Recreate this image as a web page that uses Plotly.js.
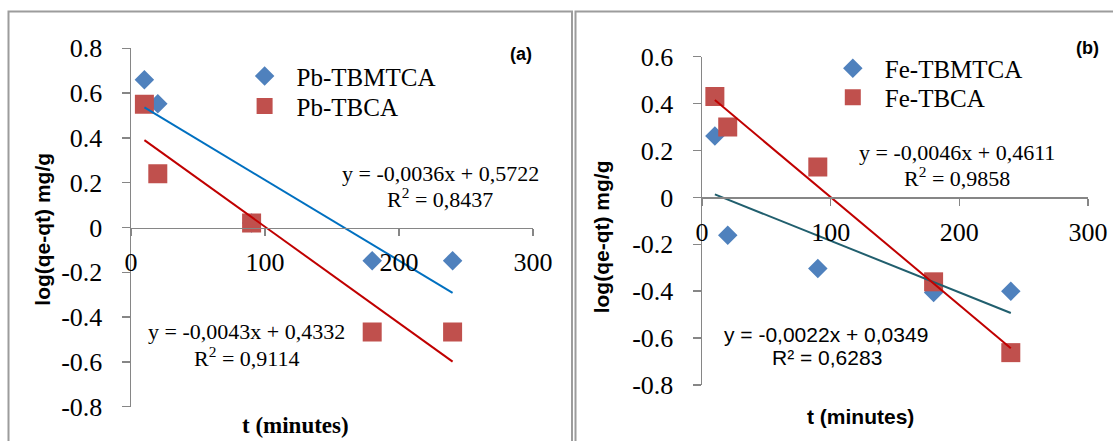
<!DOCTYPE html>
<html><head><meta charset="utf-8">
<script src="https://cdn.plot.ly/plotly-3.0.1.min.js"></script>
<style>html,body{margin:0;padding:0;background:#fff;} #chart{width:1113px;height:441px;}</style>
</head><body><div id="chart"></div>
<script>
// ---- data ----
const timeMin = [10, 20, 90, 180, 240];
const pbTBMTCA = [0.66, 0.552, 0.02, -0.148, -0.148];
const pbTBCA = [0.55, 0.24, 0.02, -0.467, -0.467];
const feTBMTCA = [0.262, -0.161, -0.303, -0.406, -0.40];
const feTBCA = [0.43, 0.30, 0.13, -0.36, -0.662];

// linear trend coefficients [slope, intercept] as printed on the chart
const pbTBMTCAFit = [-0.0036, 0.5722];
const pbTBCAFit = [-0.0043, 0.4332];
const feTBMTCAFit = [-0.0022, 0.0349];
const feTBCAFit = [-0.0046, 0.4611];

const seriesNames = ['Pb-TBMTCA', 'Pb-TBCA', 'Fe-TBMTCA', 'Fe-TBCA'];
const eqLabels = ['y = -0,0036x + 0,5722', 'y = -0,0043x + 0,4332', 'y = -0,0046x + 0,4611', 'y = -0,0022x + 0,0349'];
const r2Labels = ['R<sup>2</sup> = 0,8437', 'R<sup>2</sup> = 0,9114', 'R<sup>2</sup> = 0,9858', 'R² = 0,6283'];
const panelLabels = ['(a)', '(b)'];
const xTitle = 't (minutes)';
const yTitle = 'log(qe-qt) mg/g';

const xTickVals = [0, 100, 200, 300];
const xTickText = ['0', '100', '200', '300'];
const yTickValsA = [-0.8, -0.6, -0.4, -0.2, 0, 0.2, 0.4, 0.6, 0.8];
const yTickTextA = ['-0.8', '-0.6', '-0.4', '-0.2', '0', '0.2', '0.4', '0.6', '0.8'];
const yTickValsB = [-0.8, -0.6, -0.4, -0.2, 0, 0.2, 0.4, 0.6];
const yTickTextB = ['-0.8', '-0.6', '-0.4', '-0.2', '0', '0.2', '0.4', '0.6'];

// ---- styling / layout ----
const W = 1113, H = 441;
const px = x => x / W, py = y => 1 - y / H;
const BLUE = '#4F81BD', RED = '#C0504D';
const SERIF = 'Liberation Serif';
const SANS = 'Liberation Sans';
const AXC = '#868686';

const fitX = [Math.min(...timeMin), Math.max(...timeMin)];
const fitY = c => fitX.map(x => c[0] * x + c[1]);

const rangeA = [-0.8, 0.8], rangeB = [-0.8, 0.6];
const domAx = [px(131), px(533)], domAy = [py(406.7), py(48.3)];
const domBx = [px(702), px(1088)], domBy = [py(385), py(56.7)];
const zeroPos = (dom, r) => dom[0] + (0 - r[0]) / (r[1] - r[0]) * (dom[1] - dom[0]);

const diamond = () => ({symbol: 'diamond', size: 15, color: BLUE});
const square = () => ({symbol: 'square', size: 19, color: RED});

const traces = [
  {x: timeMin, y: pbTBMTCA, name: seriesNames[0], mode: 'markers', marker: diamond(), xaxis: 'x', yaxis: 'y', legend: 'legend'},
  {x: timeMin, y: pbTBCA, name: seriesNames[1], mode: 'markers', marker: square(), xaxis: 'x', yaxis: 'y', legend: 'legend2'},
  {x: fitX, y: fitY(pbTBMTCAFit), mode: 'lines', line: {color: '#0070C0', width: 2}, showlegend: false, xaxis: 'x', yaxis: 'y'},
  {x: fitX, y: fitY(pbTBCAFit), mode: 'lines', line: {color: '#C00000', width: 2}, showlegend: false, xaxis: 'x', yaxis: 'y'},
  {x: timeMin, y: feTBMTCA, name: seriesNames[2], mode: 'markers', marker: diamond(), xaxis: 'x2', yaxis: 'y2', legend: 'legend3'},
  {x: timeMin, y: feTBCA, name: seriesNames[3], mode: 'markers', marker: square(), xaxis: 'x2', yaxis: 'y2', legend: 'legend4'},
  {x: fitX, y: fitY(feTBMTCAFit), mode: 'lines', line: {color: '#215F6E', width: 2}, showlegend: false, xaxis: 'x2', yaxis: 'y2'},
  {x: fitX, y: fitY(feTBCAFit), mode: 'lines', line: {color: '#C00000', width: 2}, showlegend: false, xaxis: 'x2', yaxis: 'y2'}
];

const tickFont = () => ({family: SERIF, size: 26, color: '#000'});
const yAxis = (extra) => Object.assign({
  showline: true, linecolor: AXC, linewidth: 1.5, ticks: 'outside', ticklen: 8, tickwidth: 1.5, tickcolor: AXC,
  showgrid: false, zeroline: false, tickmode: 'array', ticklabelstandoff: 14,
  tickfont: tickFont(), fixedrange: true
}, extra);
const xAxis = (extra) => Object.assign({
  showline: true, linecolor: AXC, linewidth: 1.5, ticks: 'outside', ticklen: 7, tickwidth: 1.5, tickcolor: AXC,
  showgrid: false, zeroline: false, tickmode: 'array', tickvals: xTickVals, ticktext: xTickText, range: [0, 300],
  ticklabelstandoff: 4, anchor: 'free', tickfont: tickFont(), fixedrange: true
}, extra);

const ann = (x, y, text, font, extra) => Object.assign({xref: 'paper', yref: 'paper', x: px(x), y: py(y), text: text,
  showarrow: false, xanchor: 'center', yanchor: 'middle', font: font}, extra || {});

const eqFont = () => ({family: SERIF, size: 22, color: '#000'});
const eqFontSans = () => ({family: SANS, size: 21, color: '#000'});
const annotations = [
  ann(521, 54, '<b>' + panelLabels[0] + '</b>', {family: SANS, size: 18, color: '#000'}),
  ann(1087, 48, '<b>' + panelLabels[1] + '</b>', {family: SANS, size: 18, color: '#000'}),
  ann(440, 173.3, eqLabels[0], eqFont()),
  ann(440, 198.3, r2Labels[0], eqFont()),
  ann(246, 331.7, eqLabels[1], eqFont()),
  ann(246, 356.7, r2Labels[1], eqFont()),
  ann(957, 152.7, eqLabels[2], eqFont()),
  ann(957, 176.7, r2Labels[2], eqFont()),
  ann(826.4, 334.3, eqLabels[3], eqFontSans()),
  ann(826.5, 357.7, r2Labels[3], eqFontSans()),
  ann(43, 229.7, '<b>' + yTitle + '</b>', {family: SANS, size: 21, color: '#000'}, {textangle: -90}),
  ann(601.6, 236.7, '<b>' + yTitle + '</b>', {family: SANS, size: 21, color: '#000'}, {textangle: -90}),
  ann(296, 425, '<b>' + xTitle + '</b>', {family: SERIF, size: 23, color: '#000'}),
  ann(860, 416.7, '<b>' + xTitle + '</b>', {family: SANS, size: 21, color: '#000'})
];

const frame = {color: '#9C9C9C', width: 2};
const shapes = [
  {type: 'rect', xref: 'paper', yref: 'paper', x0: px(8.5), x1: px(572), y0: -0.2, y1: py(11.5), line: frame, layer: 'below'},
  {type: 'rect', xref: 'paper', yref: 'paper', x0: px(575.5), x1: 1.1, y0: -0.2, y1: py(11.5), line: frame, layer: 'below'}
];

// one legend per entry so each entry sits exactly where the reference puts it
const legendAt = (markerX, centerY) => ({xanchor: 'left', yanchor: 'top', bgcolor: 'rgba(0,0,0,0)', borderwidth: 0,
  font: {family: SERIF, size: 25, color: '#000'}, itemwidth: 54,
  x: px(markerX - 32), y: py(centerY - 24.5)});

const layout = {
  width: W, height: H, margin: {l: 0, r: 0, t: 0, b: 0},
  font: {family: SERIF, size: 26, color: '#000'},
  paper_bgcolor: '#fff', plot_bgcolor: 'rgba(0,0,0,0)',
  xaxis: xAxis({domain: domAx, position: zeroPos(domAy, rangeA)}),
  yaxis: yAxis({domain: domAy, range: rangeA, tickvals: yTickValsA, ticktext: yTickTextA, anchor: 'x'}),
  xaxis2: xAxis({domain: domBx, position: zeroPos(domBy, rangeB)}),
  yaxis2: yAxis({domain: domBy, range: rangeB, tickvals: yTickValsB, ticktext: yTickTextB, anchor: 'x2'}),
  legend: legendAt(264.6, 77.7),
  legend2: legendAt(264.6, 107.7),
  legend3: legendAt(852.8, 70),
  legend4: legendAt(852.8, 99),
  annotations: annotations,
  shapes: shapes,
  showlegend: true
};

Plotly.newPlot('chart', traces, layout, {displayModeBar: false, staticPlot: true});
</script>
</body></html>
